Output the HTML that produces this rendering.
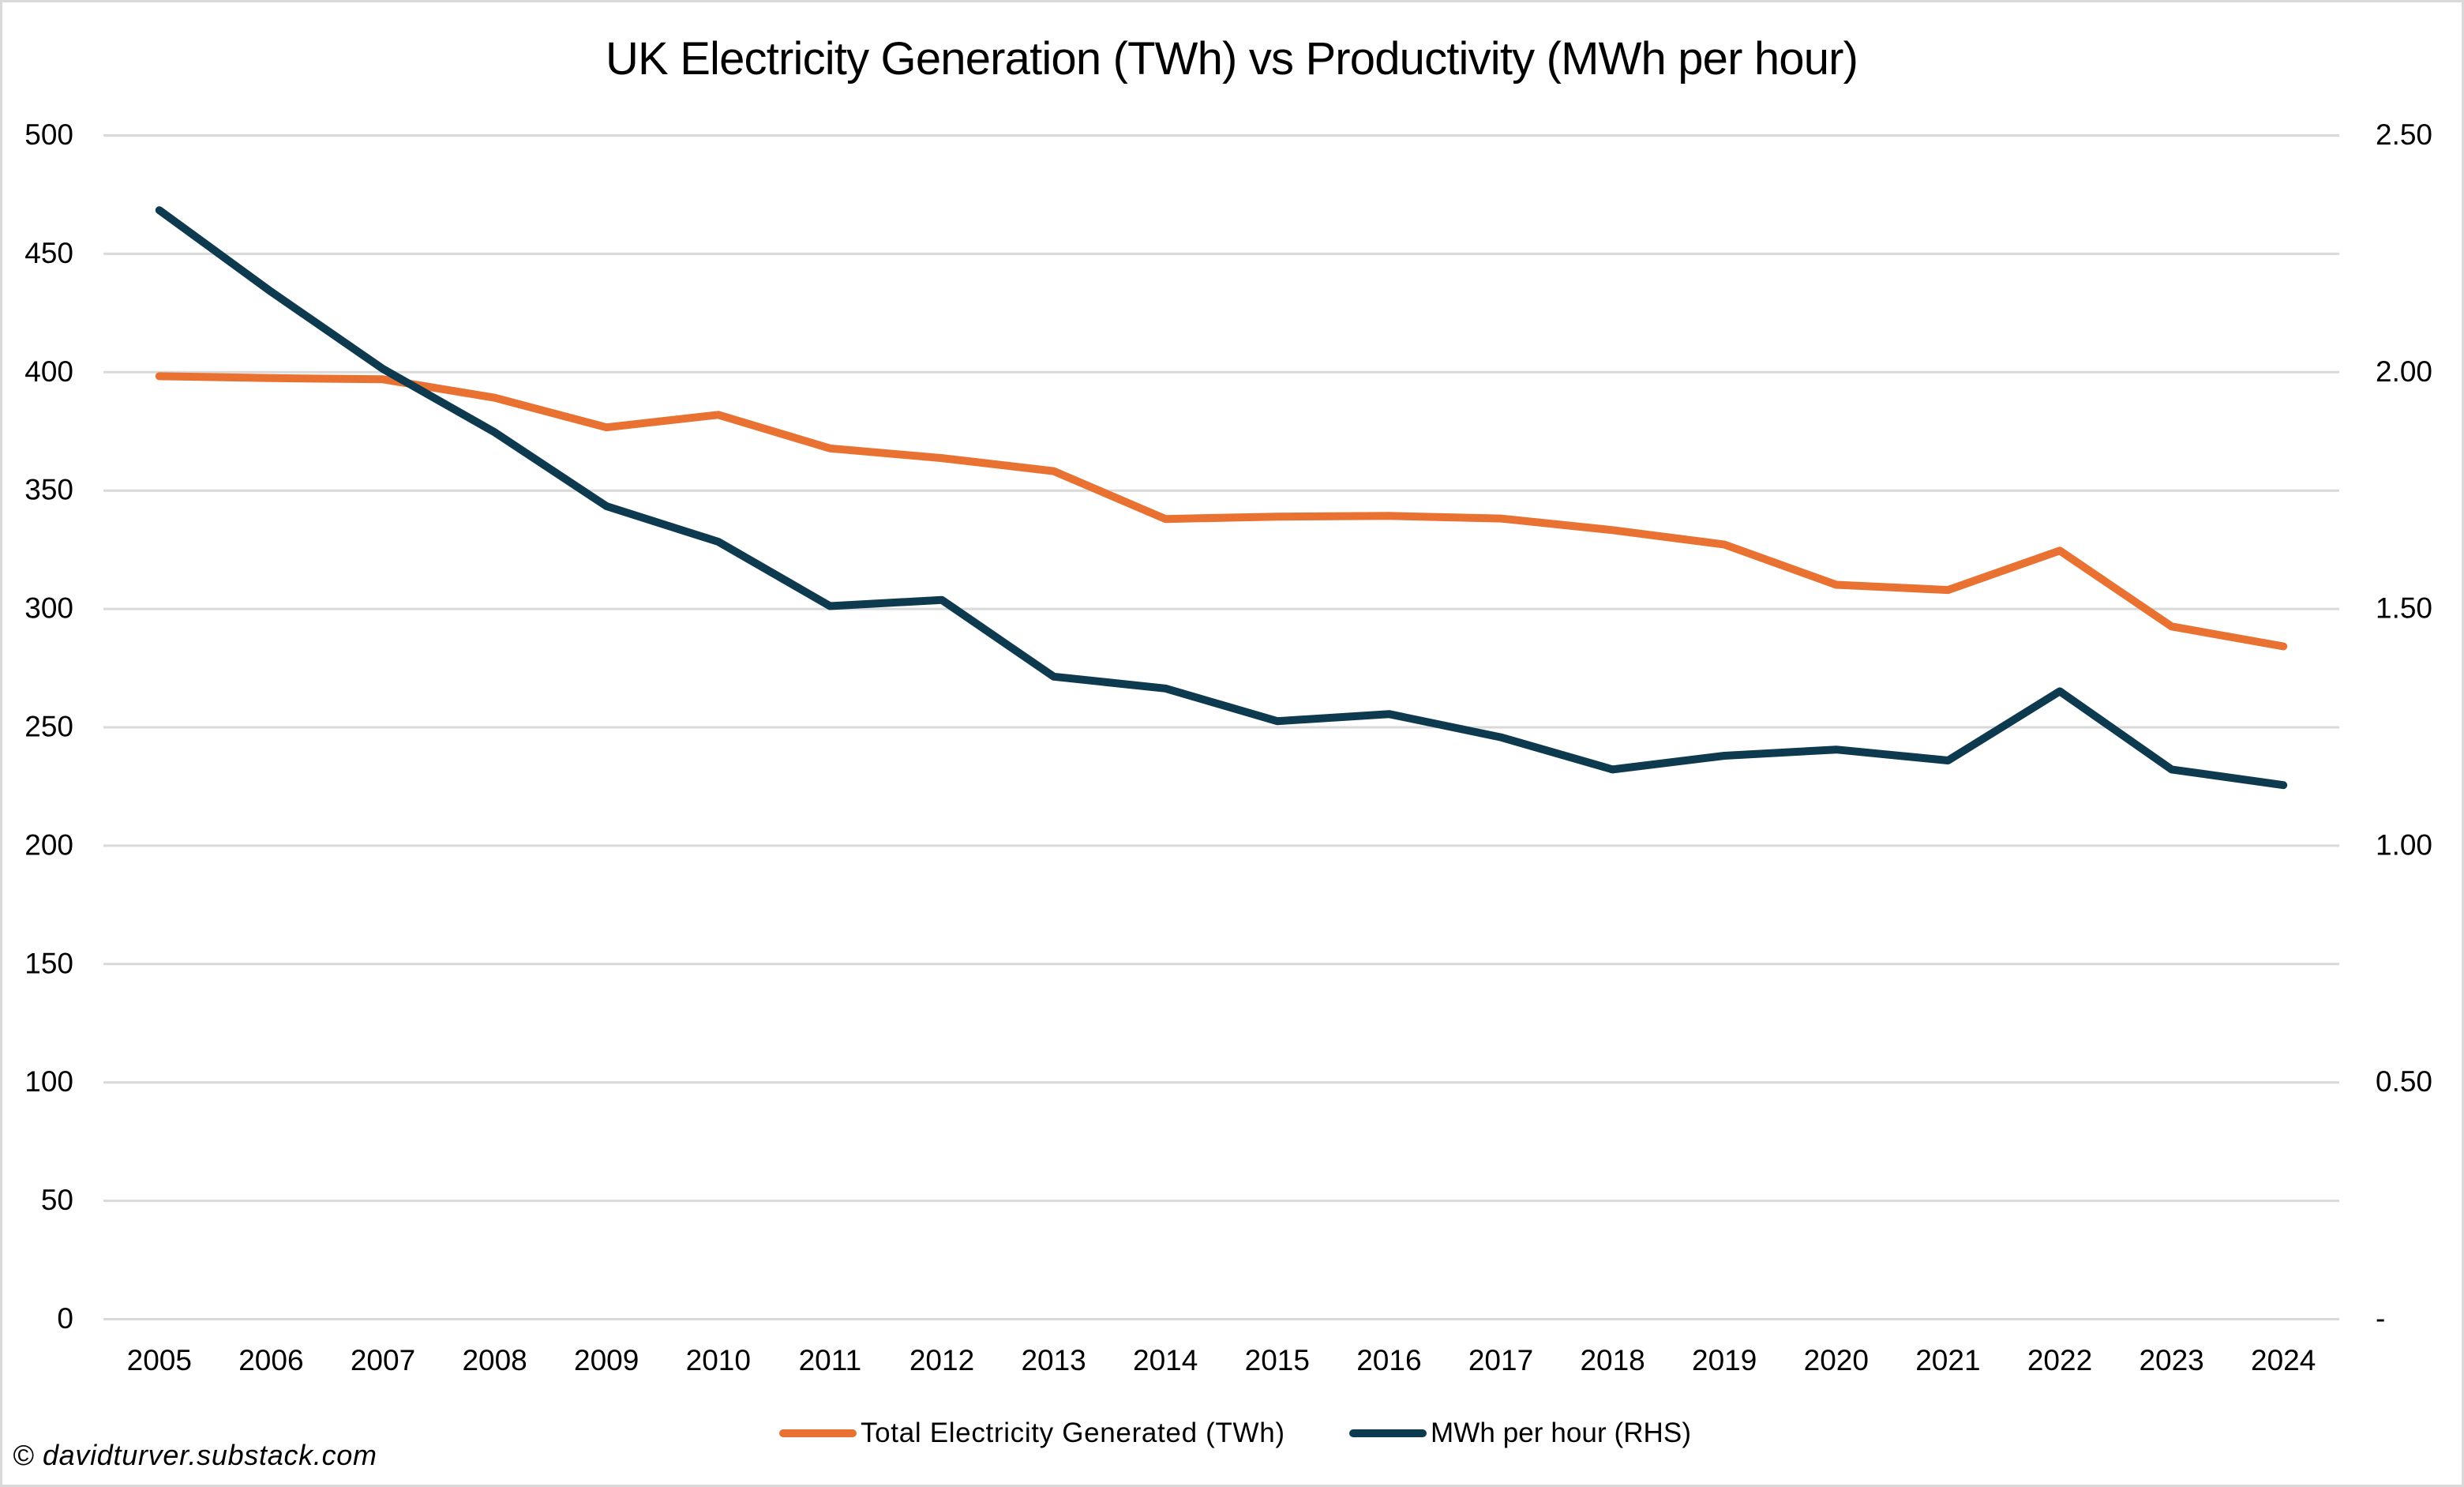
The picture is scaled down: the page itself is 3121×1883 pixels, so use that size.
<!DOCTYPE html>
<html lang="en">
<head>
<meta charset="utf-8">
<title>UK Electricity Generation (TWh) vs Productivity (MWh per hour)</title>
<style>
  html, body { margin: 0; padding: 0; background: #fff; }
  body { width: 3121px; height: 1883px; overflow: hidden; }
  svg { display: block; }
  text { font-family: "Liberation Sans", sans-serif; fill: #000; }
</style>
</head>
<body>
<svg id="chart" xmlns="http://www.w3.org/2000/svg" width="3121" height="1883" viewBox="0 0 3121 1883">
  <rect x="1.5" y="1.5" width="3118" height="1880" fill="#ffffff" stroke="#d9d9d9" stroke-width="3"/>
  <text x="767" y="94" font-size="58" textLength="1587">UK Electricity Generation (TWh) vs Productivity (MWh per hour)</text>
  <g id="grid"></g>
  <g id="left-axis"></g>
  <g id="right-axis"></g>
  <g id="x-axis"></g>
  <g id="series"></g>
  <g>
    <line x1="992" y1="1815" x2="1080" y2="1815" stroke="#e97132" stroke-width="10" stroke-linecap="round"/>
    <text x="1090" y="1826" font-size="35" textLength="537">Total Electricity Generated (TWh)</text>
    <line x1="1714" y1="1815" x2="1802" y2="1815" stroke="#0e3a4f" stroke-width="10" stroke-linecap="round"/>
    <text x="1812" y="1826" font-size="35" textLength="330">MWh per hour (RHS)</text>
  </g>
  <text x="16" y="1855" font-size="36" font-style="italic" textLength="461">© davidturver.substack.com</text>
</svg>
<script>
const years = ['2005','2006','2007','2008','2009','2010','2011','2012','2013','2014','2015','2016','2017','2018','2019','2020','2021','2022','2023','2024'];
const generationTWh = [398.3,397.5,397,389.2,376.7,382,367.8,363.7,358.2,338,339,339.3,338.2,333.3,327.2,310.2,308,324.6,292.6,284.2];
const mwhPerHour = [2.342,2.17,2.007,1.873,1.717,1.642,1.506,1.519,1.357,1.332,1.263,1.278,1.229,1.161,1.19,1.203,1.18,1.326,1.161,1.128];
const leftTicks = [0,50,100,150,200,250,300,350,400,450,500];
const rightTicks = [0,0.5,1,1.5,2,2.5];
const rightTickLabels = ['-','0.50','1.00','1.50','2.00','2.50'];

const NS = 'http://www.w3.org/2000/svg';
const plotLeft = 131, plotRight = 2963, plotTop = 171.5, plotBottom = 1670.5;
const leftMax = 500, rightMax = 2.5;

function xScale(i) { return plotLeft + (i + 0.5) * (plotRight - plotLeft) / years.length; }
function yLeft(v) { return plotBottom - (v / leftMax) * (plotBottom - plotTop); }
function yRight(v) { return plotBottom - (v / rightMax) * (plotBottom - plotTop); }

function svgEl(tag, attrs, text) {
  const el = document.createElementNS(NS, tag);
  for (const k in attrs) el.setAttribute(k, attrs[k]);
  if (text !== undefined) el.textContent = text;
  return el;
}

const gridGroup = document.getElementById('grid');
const leftGroup = document.getElementById('left-axis');
leftTicks.forEach(function (t) {
  const line = svgEl('line', { x1: plotLeft, x2: plotRight, y1: yLeft(t), y2: yLeft(t), stroke: '#d9d9d9', 'stroke-width': 3 });
  
  
  gridGroup.appendChild(line);
  const label = svgEl('text', { x: 93, y: yLeft(t) + 11.5, 'font-size': 37, 'text-anchor': 'end' }, String(t));
  
  
  leftGroup.appendChild(label);
});

const rightGroup = document.getElementById('right-axis');
rightTicks.forEach(function (t, i) {
  const label = svgEl('text', { x: 3009, y: yRight(t) + 11.5, 'font-size': 37 }, rightTickLabels[i]);
  
  
  rightGroup.appendChild(label);
});

const xGroup = document.getElementById('x-axis');
years.forEach(function (y, i) {
  const label = svgEl('text', { x: xScale(i), y: 1735, 'font-size': 37, 'text-anchor': 'middle' }, y);
  
  
  xGroup.appendChild(label);
});

function pointsFor(values, yFn) {
  return values.map(function (v, i) { return xScale(i).toFixed(1) + ',' + yFn(v).toFixed(1); }).join(' ');
}

const seriesGroup = document.getElementById('series');
const generationLine = svgEl('polyline', { points: pointsFor(generationTWh, yLeft), fill: 'none', stroke: '#e97132', 'stroke-width': 10, 'stroke-linecap': 'round', 'stroke-linejoin': 'round' });


seriesGroup.appendChild(generationLine);
const productivityLine = svgEl('polyline', { points: pointsFor(mwhPerHour, yRight), fill: 'none', stroke: '#0e3a4f', 'stroke-width': 10, 'stroke-linecap': 'round', 'stroke-linejoin': 'round' });


seriesGroup.appendChild(productivityLine);
</script>
</body>
</html>
